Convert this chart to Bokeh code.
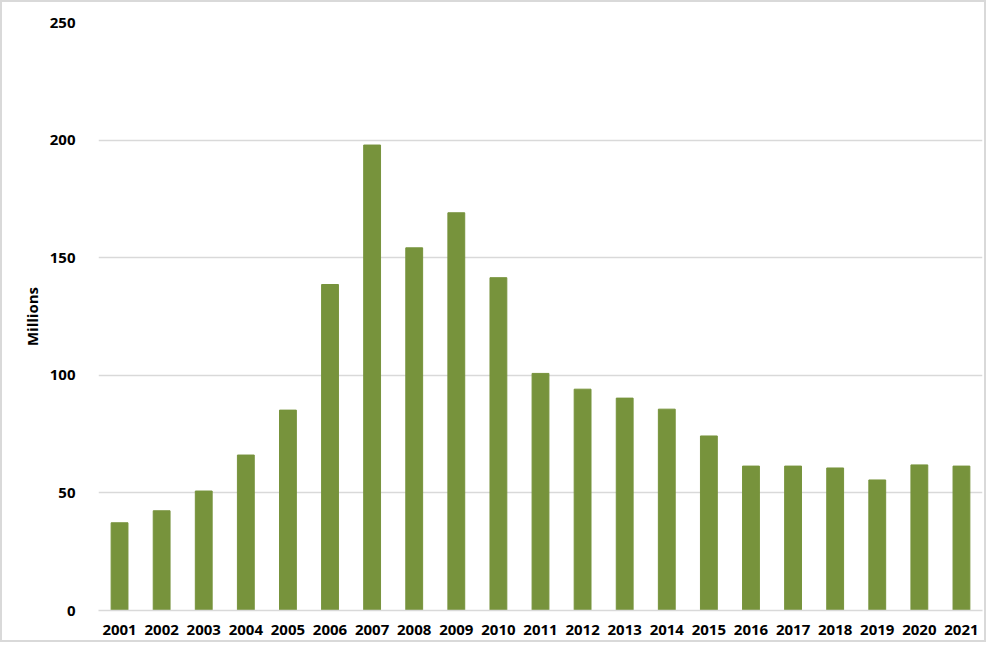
from bokeh.plotting import figure
from bokeh.models import FixedTicker
from bokeh.embed import file_html
from bokeh.resources import INLINE

years = [str(y) for y in range(2001, 2022)]
millions = [37.3, 42.4, 50.8, 66.1, 85.2, 138.6, 197.9, 154.2, 169.1, 141.5,
            100.8, 94.1, 90.3, 85.6, 74.2, 61.4, 61.4, 60.6, 55.5, 61.9, 61.4]
y_ticks = [0, 50, 100, 150, 200, 250]

p = figure(x_range=years, y_range=(0, 250), width=986, height=642,
           output_backend="svg", toolbar_location=None,
           min_border_left=96, min_border_right=6,
           min_border_top=20, min_border_bottom=34)

p.vbar(x=years, top=millions, width=0.4, color="#77933C")

p.x_range.range_padding = 0
p.outline_line_color = None
p.styles = {"border": "2px solid #d9d9d9"}

p.xgrid.grid_line_color = None
p.ygrid.grid_line_color = "#d9d9d9"
p.ygrid.grid_line_width = 1.5
p.yaxis.ticker = FixedTicker(ticks=y_ticks)

p.yaxis.axis_line_color = None
p.yaxis.major_tick_line_color = None
p.yaxis.minor_tick_line_color = None
p.yaxis.major_label_standoff = 17
p.yaxis.axis_label = "Millions"
p.yaxis.axis_label_standoff = 5

p.xaxis.axis_line_color = "#d9d9d9"
p.xaxis.axis_line_width = 1.5
p.xaxis.major_tick_line_color = None
p.xaxis.major_label_standoff = 8

for ax in (p.xaxis, p.yaxis):
    ax.major_label_text_font = "Open Sans"
    ax.major_label_text_font_style = "bold"
    ax.major_label_text_font_size = "15px"
    ax.major_label_text_color = "#000000"
    ax.axis_label_text_font = "Open Sans"
    ax.axis_label_text_font_style = "bold"
    ax.axis_label_text_font_size = "15px"
    ax.axis_label_text_color = "#000000"

open("out.html", "w").write(file_html(p, INLINE))
